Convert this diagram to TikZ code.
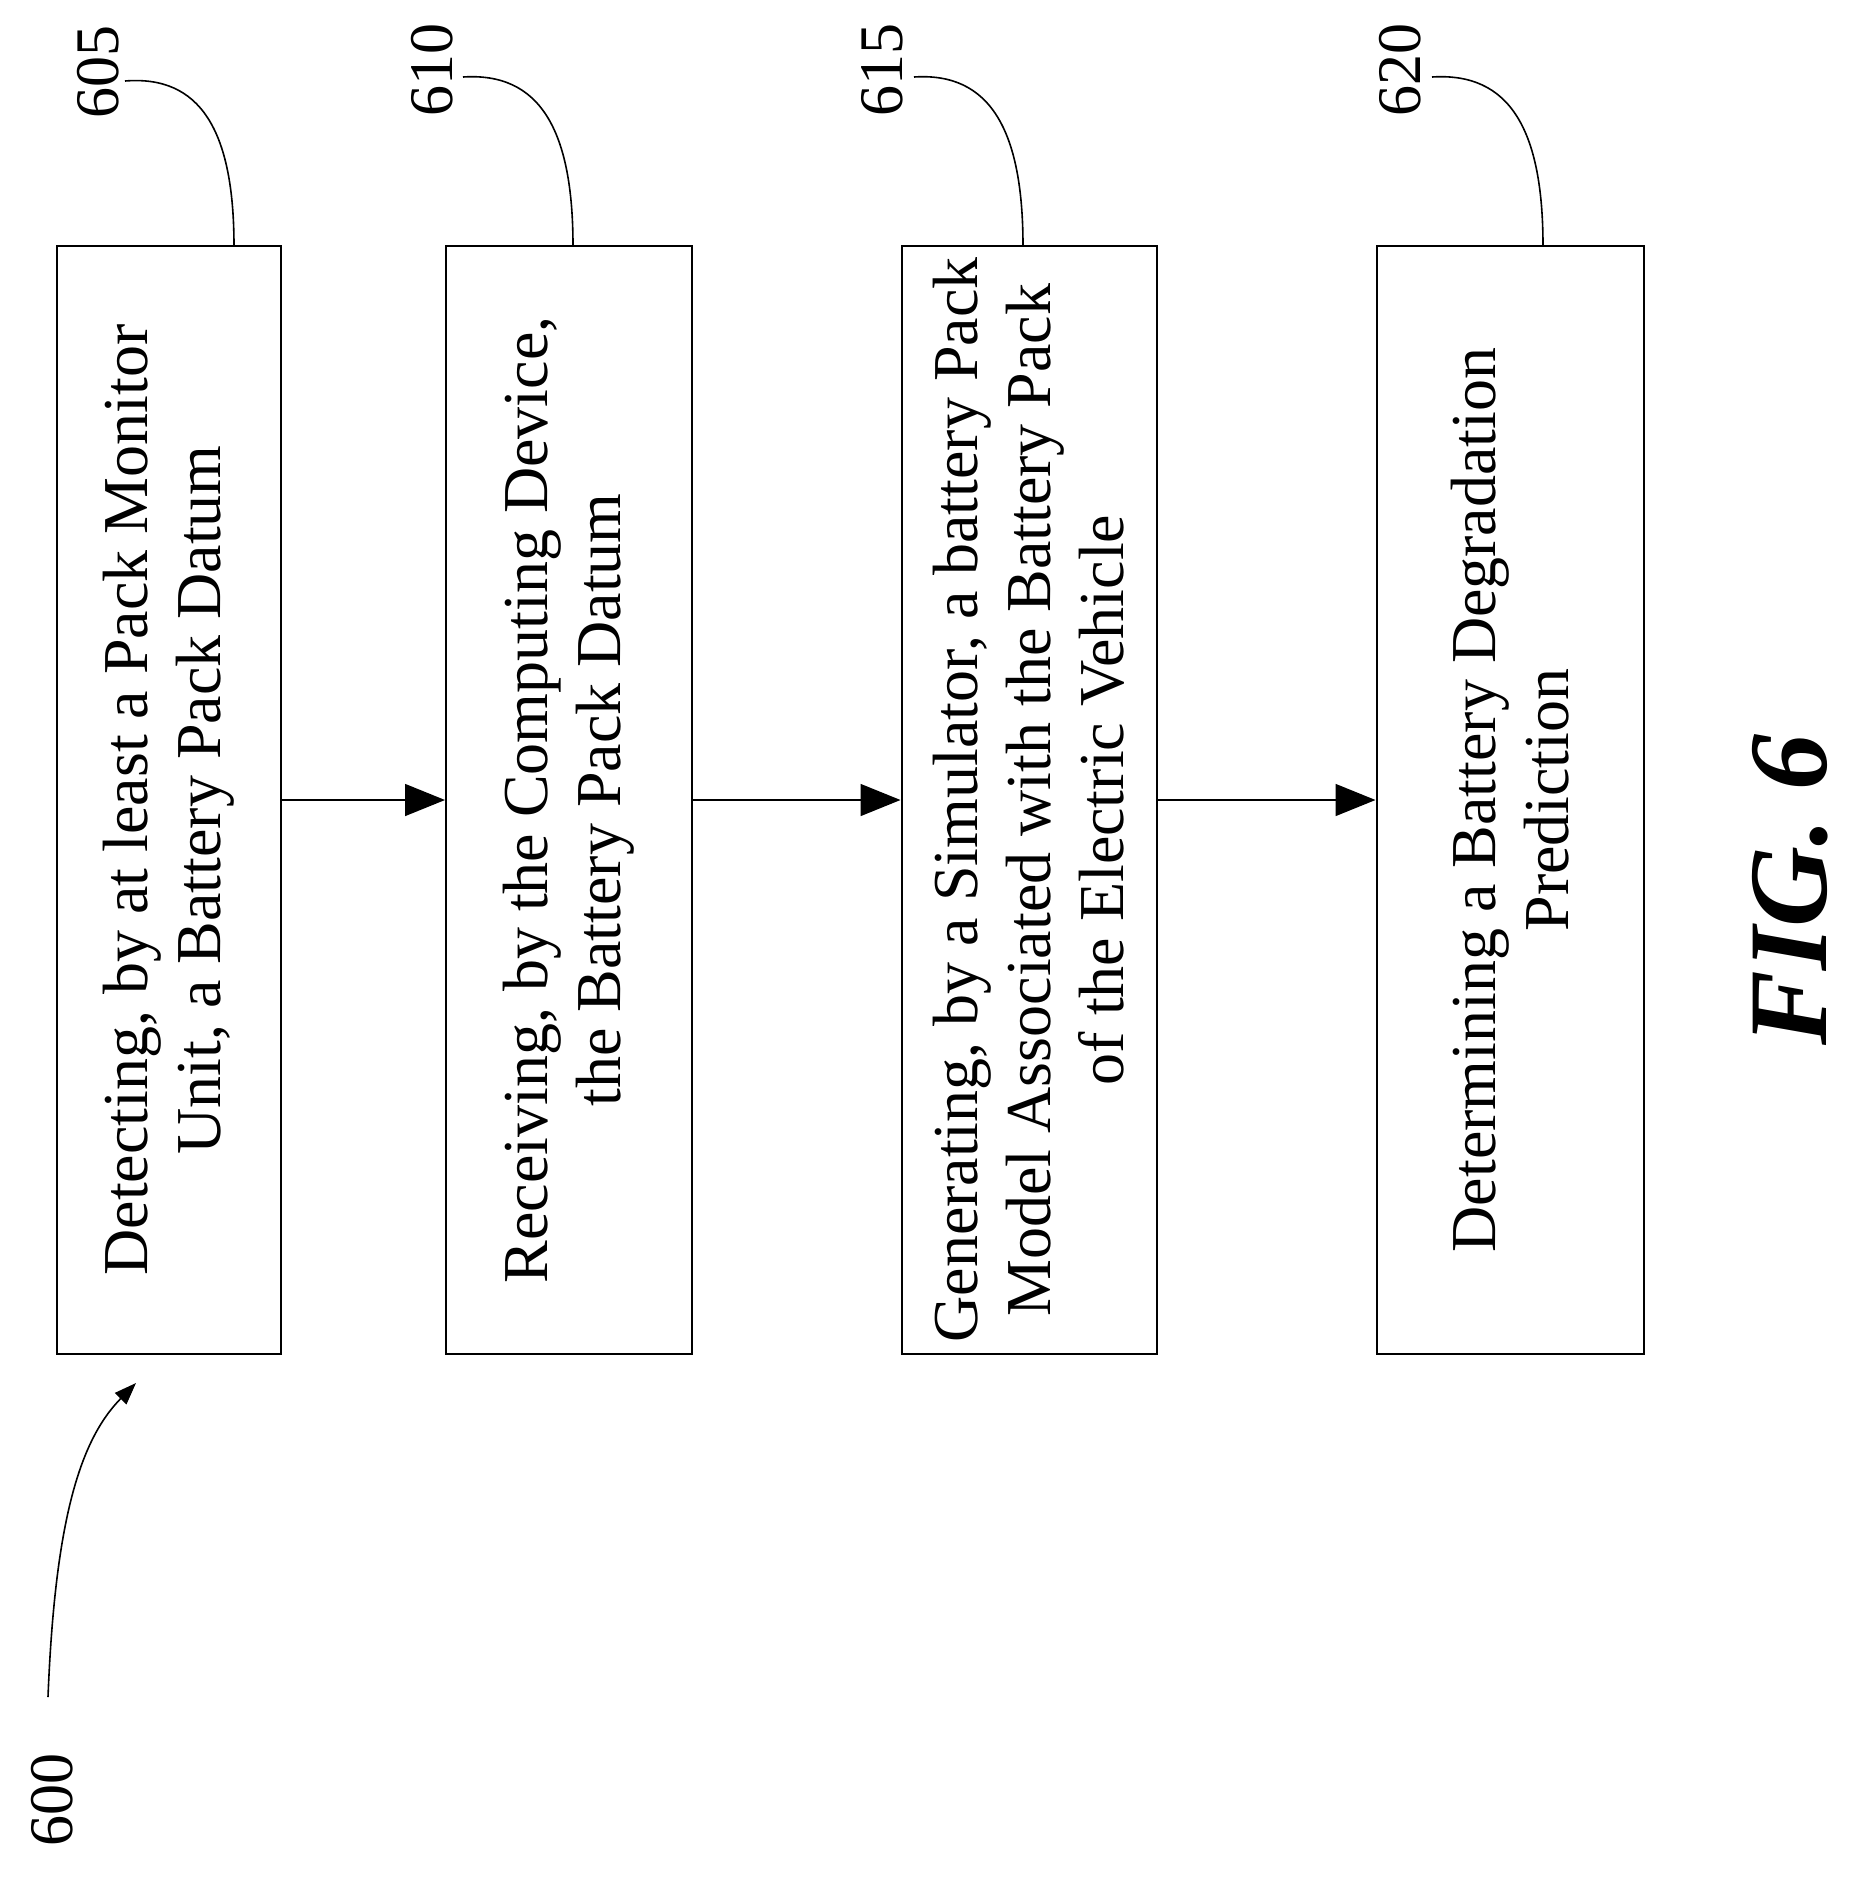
\documentclass[tikz,border=0pt]{standalone}
\usepackage{fontspec}
\setmainfont{Liberation Serif}
\usetikzlibrary{arrows.meta}
\begin{document}
\begin{tikzpicture}[x=1pt,y=-1pt,
  box/.style={draw,line width=2pt,inner sep=0pt},
  txt/.style={rotate=90,align=center,font=\fontsize{64}{73}\selectfont,inner sep=0pt},
  lab/.style={rotate=90,font=\fontsize{62}{66}\selectfont,inner sep=0pt},
  lead/.style={line width=1.6pt},
  arr/.style={line width=1.6pt,-{Triangle[length=40pt,width=32pt]}}]
\useasboundingbox (0,0) rectangle (1851,1885);
\node[box,minimum width=224pt,minimum height=1108pt] (b1) at (169,800) {};
\node[box,minimum width=246pt,minimum height=1108pt] (b2) at (569,800) {};
\node[box,minimum width=255pt,minimum height=1108pt] (b3) at (1029,800) {};
\node[box,minimum width=267pt,minimum height=1108pt] (b4) at (1510,800) {};
\node[txt] (t1) at (b1.center) {Detecting, by at least a Pack Monitor\\Unit, a Battery Pack Datum};
\node[txt] (t2) at (b2.center) {Receiving, by the Computing Device,\\the Battery Pack Datum};
\node[txt] (t3) at (b3.center) {Generating, by a Simulator, a battery Pack\\Model Associated with the Battery Pack\\of the Electric Vehicle};
\node[txt] (t4) at (b4.center) {Determining a Battery Degradation\\Prediction};
\draw[arr] (b1.east) -- (b2.west);
\draw[arr] (b2.east) -- (b3.west);
\draw[arr] (b3.east) -- (b4.west);
\node[lab] (l605) at (98,72) {605};
\node[lab] (l610) at (432,70) {610};
\node[lab] (l615) at (882,70) {615};
\node[lab] (l620) at (1400,70) {620};
\coordinate (c1) at (234,246);
\coordinate (c2) at (573,246);
\coordinate (c3) at (1023,246);
\coordinate (c4) at (1543,246);
\draw[lead] (125,81) .. controls (200,75) and (234,130) .. (c1);
\draw[lead] (463,77) .. controls (540,72) and (573,130) .. (c2);
\draw[lead] (914,77) .. controls (990,72) and (1023,130) .. (c3);
\draw[lead] (1432,77) .. controls (1510,72) and (1543,130) .. (c4);
\node[lab] (l600) at (52,1800) {600};
\coordinate (a600) at (136,1383);
\draw[lead,-{Triangle[length=22pt,width=16pt]}] (48,1697) .. controls (55,1520) and (80,1440) .. (a600);
\node[rotate=90,font=\fontsize{112}{120}\selectfont\bfseries\itshape,inner sep=0pt] (fig) at (1790,890) {FIG. 6};
\end{tikzpicture}
\end{document}
